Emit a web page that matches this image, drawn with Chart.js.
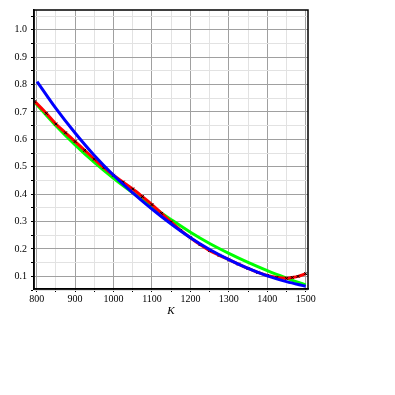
<!DOCTYPE html>
<html>
<head>
<meta charset="utf-8">
<script src="https://cdn.jsdelivr.net/npm/chart.js@4.4.1/dist/chart.umd.min.js"></script>
<style>
  html, body { margin: 0; padding: 0; background: #fff; }
  #wrap { width: 395px; height: 395px; }
</style>
</head>
<body>
<div id="wrap"><canvas id="c"></canvas></div>
<script>
// ---- data ----
const redK = [795, 825, 850, 875, 900, 925, 950, 975, 1000, 1025, 1050, 1075, 1100, 1125, 1150,
              1175, 1200, 1225, 1250, 1275, 1300, 1325, 1350, 1375, 1400, 1425, 1450, 1465, 1480, 1500];
const redV = [0.738, 0.695, 0.656, 0.624, 0.592, 0.560, 0.528, 0.497, 0.469, 0.444, 0.419, 0.391, 0.362, 0.330, 0.298,
              0.268, 0.241, 0.216, 0.194, 0.177, 0.161, 0.145, 0.129, 0.115, 0.103, 0.096, 0.093, 0.096, 0.100, 0.110];

const blueK = [801, 850, 900, 950, 1000, 1050, 1100, 1150, 1200, 1250, 1300, 1350, 1400, 1450, 1500];
const blueV = [0.811, 0.713, 0.623, 0.541, 0.469, 0.405, 0.346, 0.291, 0.241, 0.198, 0.161, 0.129, 0.102, 0.081, 0.064];

const greenK = [795, 850, 900, 950, 1000, 1050, 1100, 1150, 1200, 1250, 1300, 1350, 1400, 1450, 1500];
const greenV = [0.735, 0.650, 0.580, 0.516, 0.458, 0.405, 0.355, 0.307, 0.261, 0.220, 0.184, 0.151, 0.121, 0.094, 0.069];

// grid / tick positions (labels only on the major ones)
const xTicks = [800, 850, 900, 950, 1000, 1050, 1100, 1150, 1200, 1250, 1300, 1350, 1400, 1450, 1500];
const yTicks = [0.05, 0.1, 0.15, 0.2, 0.25, 0.3, 0.35, 0.4, 0.45, 0.5, 0.55, 0.6, 0.65, 0.7,
                0.75, 0.8, 0.85, 0.9, 0.95, 1.0, 1.05];

const pts = (ks, vs) => ks.map((k, i) => ({ x: k, y: vs[i] }));

const MAJOR = '#a0a0a0';
const MINOR = '#e2e2e2';
const tickFont = { family: "'Liberation Serif', serif", size: 10 };

// box round the plot area
const frame = {
  id: 'frame',
  afterDraw(chart) {
    const { ctx, chartArea: a } = chart;
    ctx.save();
    ctx.strokeStyle = '#000';
    ctx.lineWidth = 1.5;
    ctx.strokeRect(a.left, a.top, a.right - a.left, a.bottom - a.top);
    ctx.restore();
  }
};

new Chart(document.getElementById('c'), {
  type: 'line',
  data: {
    datasets: [
      {
        label: 'fit 1',
        data: pts(blueK, blueV),
        borderColor: '#0000ff',
        borderWidth: 3,
        pointRadius: 0,
        cubicInterpolationMode: 'monotone',
      },
      {
        label: 'data',
        data: pts(redK, redV),
        borderColor: '#ff0000',
        borderWidth: 3,
        pointStyle: 'crossRot',
        pointRadius: 2,
        pointBorderColor: '#000',
        pointBorderWidth: 1,
        cubicInterpolationMode: 'monotone',
      },
      {
        label: 'fit 2',
        data: pts(greenK, greenV),
        borderColor: '#00ff00',
        borderWidth: 3,
        pointRadius: 0,
        cubicInterpolationMode: 'monotone',
      }
    ]
  },
  options: {
    responsive: true,
    maintainAspectRatio: false,
    animation: false,
    layout: { padding: { left: 0, top: 5, right: 87, bottom: 76 } },
    plugins: { legend: { display: false }, tooltip: { enabled: false } },
    scales: {
      x: {
        type: 'linear',
        min: 793,
        max: 1506,
        afterBuildTicks: s => { s.ticks = xTicks.map(v => ({ value: v })); },
        afterFit: s => { s.height = 30; },
        grid: {
          color: c => (c.tick && c.tick.value % 100 === 0) ? MAJOR : MINOR,
          lineWidth: 1,
          drawTicks: true,
          tickLength: 3,
          tickColor: '#000',
        },
        border: { display: true, color: '#000', width: 1.5 },
        ticks: {
          color: '#000',
          font: tickFont,
          padding: 1,
          maxRotation: 0,
          autoSkip: false,
          callback: v => (v % 100 === 0 ? String(v) : ''),
        },
        title: {
          display: true,
          text: 'K',
          color: '#000',
          font: { family: "'Liberation Serif', serif", size: 11, style: 'italic' },
          padding: { top: 0, bottom: 1 },
        }
      },
      y: {
        type: 'linear',
        min: 0.054,
        max: 1.072,
        afterBuildTicks: s => { s.ticks = yTicks.map(v => ({ value: v })); },
        afterFit: s => { s.width = 34; },
        grid: {
          color: c => (c.tick && Math.round(c.tick.value * 100) % 10 === 0) ? MAJOR : MINOR,
          lineWidth: 1,
          drawTicks: true,
          tickLength: 3,
          tickColor: '#000',
        },
        border: { display: true, color: '#000', width: 1.5 },
        ticks: {
          color: '#000',
          font: tickFont,
          padding: 4,
          autoSkip: false,
          callback: v => (Math.round(v * 100) % 10 === 0 ? v.toFixed(1) : ''),
        }
      }
    }
  },
  plugins: [frame]
});
</script>
</body>
</html>
